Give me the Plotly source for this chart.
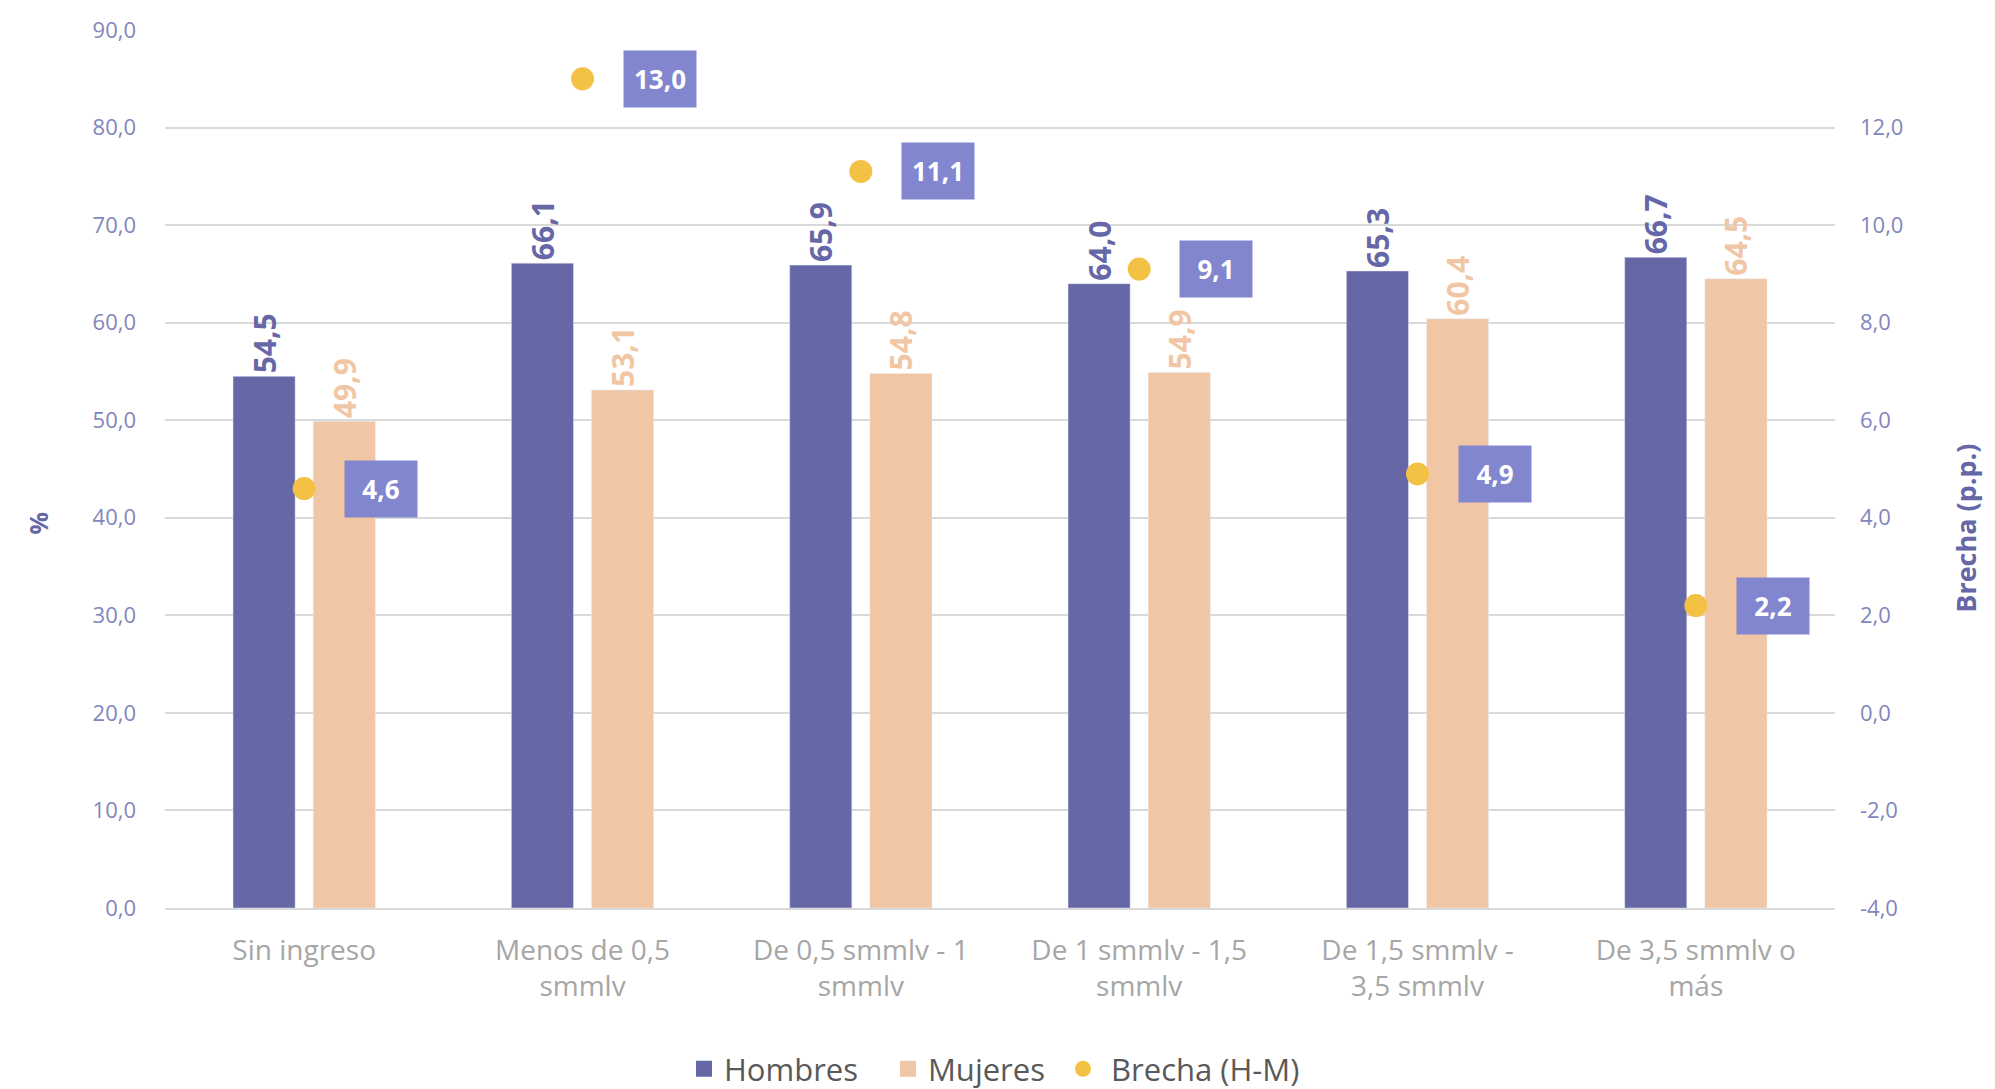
import plotly.graph_objects as go

# Income brackets (smmlv = salario mínimo mensual legal vigente)
categorias = [
    "Sin ingreso",
    "Menos de 0,5<br>smmlv",
    "De 0,5 smmlv - 1<br>smmlv",
    "De 1 smmlv - 1,5<br>smmlv",
    "De 1,5 smmlv -<br>3,5 smmlv",
    "De 3,5 smmlv o<br>más",
]
hombres = [54.5, 66.1, 65.9, 64.0, 65.3, 66.7]
mujeres = [49.9, 53.1, 54.8, 54.9, 60.4, 64.5]
brecha = [4.6, 13.0, 11.1, 9.1, 4.9, 2.2]

ticks_pct = [0, 10, 20, 30, 40, 50, 60, 70, 80, 90]
ticks_brecha = [-4, -2, 0, 2, 4, 6, 8, 10, 12]


def fmt(v):
    """One decimal, comma as decimal separator, plain hyphen for negatives."""
    return f"{v:.1f}".replace(".", ",")


C_HOM = "#6667A7"
C_MUJ = "#F1C6A5"
C_BRE = "#F3C244"
C_BOX = "#8286CF"
C_TICK = "#8385BD"
C_GRID = "#D9D9D9"
FONT = "Open Sans"

fig = go.Figure()

fig.add_trace(go.Bar(
    name="Hombres", x=categorias, y=hombres, marker_color=C_HOM,
    texttemplate="<b>%{y:.1f}</b>", textposition="outside", textangle=-90,
    textfont=dict(family=FONT, size=30, color=C_HOM),
    constraintext="none", cliponaxis=False, showlegend=False,
))
fig.add_trace(go.Bar(
    name="Mujeres", x=categorias, y=mujeres, marker_color=C_MUJ,
    texttemplate="<b>%{y:.1f}</b>", textposition="outside", textangle=-90,
    textfont=dict(family=FONT, size=30, color=C_MUJ),
    constraintext="none", cliponaxis=False, showlegend=False,
))
fig.add_trace(go.Scatter(
    name="Brecha (H-M)", x=categorias, y=brecha, yaxis="y2", mode="markers",
    marker=dict(color=C_BRE, size=23), cliponaxis=False, showlegend=False,
))

# Legend keys (square swatches for the bars, dot for the gap)
leyenda = [
    ("Hombres", C_HOM, "square", 159),
    ("Mujeres", C_MUJ, "square", 130),
    ("\u00a0Brecha (H-M)", C_BRE, "circle", None),
]
for nombre, color, simbolo, ancho in leyenda:
    fig.add_trace(go.Scatter(
        name=nombre, x=[None], y=[None], mode="markers",
        marker=dict(color=color, size=16, symbol=simbolo), showlegend=True,
        legendwidth=ancho,
    ))

# Boxed value labels for the gap series
for cat, v in zip(categorias, brecha):
    fig.add_annotation(
        x=cat, y=v, xref="x", yref="y2",
        text="<b>" + fmt(v) + "</b>",
        showarrow=False, xanchor="left", yanchor="middle", xshift=40,
        bgcolor=C_BOX, width=58, height=42, borderpad=7,
        font=dict(family=FONT, size=26, color="white"),
    )

# Axis titles
fig.add_annotation(
    x=-0.076, y=0.438, xref="paper", yref="paper", text="<b>%</b>",
    showarrow=False, textangle=-90, xanchor="center", yanchor="middle",
    font=dict(family=FONT, size=25, color=C_HOM),
)
fig.add_annotation(
    x=1.0784, y=0.433, xref="paper", yref="paper", text="<b>Brecha (p.p.)</b>",
    showarrow=False, textangle=-90, xanchor="center", yanchor="middle",
    font=dict(family=FONT, size=27, color=C_HOM),
)

fig.update_layout(
    width=1995, height=1089,
    margin=dict(l=165, r=160, t=30, b=181, autoexpand=False),
    paper_bgcolor="white", plot_bgcolor="white",
    separators=",.",
    barmode="group", bargap=0.424, bargroupgap=0.225,
    font=dict(family=FONT),
    xaxis=dict(
        showgrid=False, showline=True, linecolor=C_GRID, linewidth=2,
        ticks="", tickfont=dict(family=FONT, size=28, color="#A6A6A6"),
        ticklabelstandoff=16, automargin=False,
    ),
    yaxis=dict(
        range=[0, 90], tickvals=ticks_pct, ticktext=[fmt(v) for v in ticks_pct],
        showgrid=True, gridcolor=C_GRID, gridwidth=1.5, zeroline=False,
        showline=False, ticks="", ticklabelstandoff=28, automargin=False,
        tickfont=dict(family=FONT, size=22, color=C_TICK),
    ),
    yaxis2=dict(
        range=[-4, 14], tickvals=ticks_brecha,
        ticktext=[fmt(v) for v in ticks_brecha],
        overlaying="y", side="right", showgrid=False, zeroline=False,
        showline=False, ticks="", ticklabelstandoff=24, automargin=False,
        tickfont=dict(family=FONT, size=22, color=C_TICK),
    ),
    legend=dict(
        orientation="h", x=0.4967, xanchor="center", y=-0.1836, yanchor="middle",
        font=dict(family=FONT, size=31, color="#595959"),
        traceorder="normal",
    ),
    showlegend=True,
)

fig.write_html("out.html")
